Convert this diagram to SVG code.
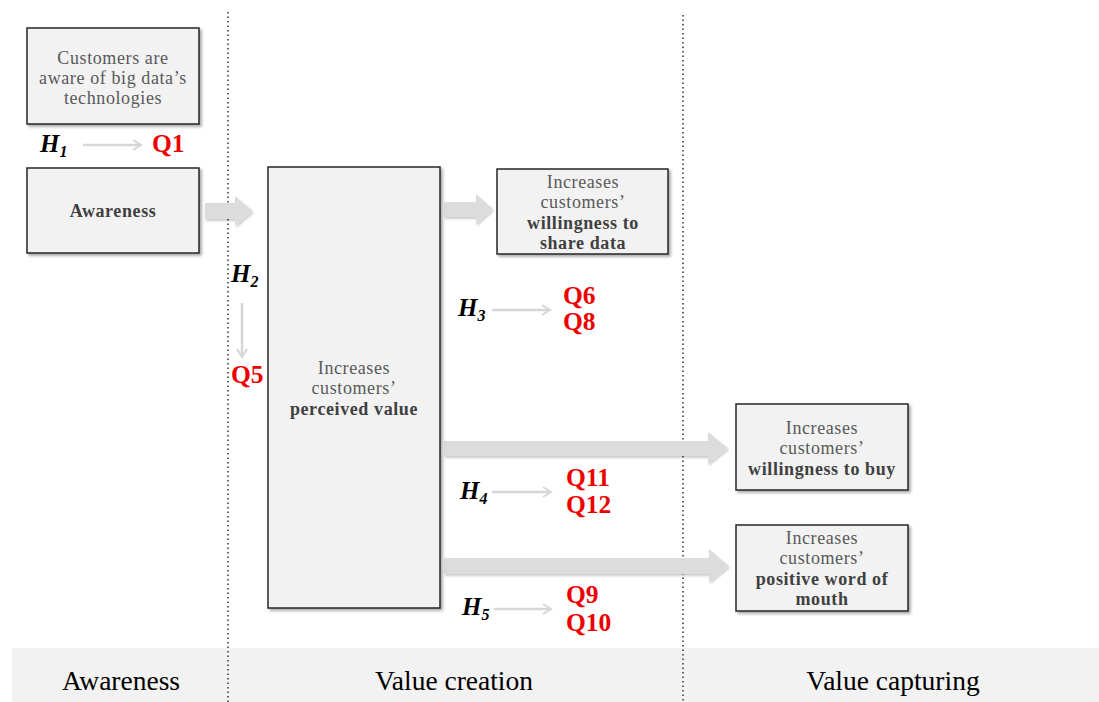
<svg xmlns="http://www.w3.org/2000/svg" width="1099" height="702" viewBox="0 0 1099 702">
  <defs>
    <filter id="shadow" x="-10%" y="-10%" width="130%" height="130%">
      <feDropShadow dx="2" dy="2" stdDeviation="1.5" flood-color="#000" flood-opacity="0.35"/>
    </filter>
    <filter id="softShadow" x="-10%" y="-30%" width="130%" height="180%">
      <feDropShadow dx="1" dy="2" stdDeviation="1.2" flood-color="#000" flood-opacity="0.2"/>
    </filter>
    <marker id="chev" viewBox="0 0 12 12" refX="10" refY="6" markerWidth="12" markerHeight="12" markerUnits="userSpaceOnUse" orient="auto">
      <path d="M2,1 L10,6 L2,11" fill="none" stroke="#d6d6d6" stroke-width="2"/>
    </marker>
  </defs>
  <style>
    .box { fill: #f2f2f2; stroke: #262626; stroke-width: 1.5; filter: url(#shadow); }
    .txt { font-family: "Liberation Serif", "Times New Roman", serif; font-size: 18px; fill: #595959; text-anchor: middle; letter-spacing: 0.6px; }
    .bold { font-weight: bold; fill: #404040; }
    .fat { fill: #dcdcdc; filter: url(#softShadow); }
    .thin { stroke: #d6d6d6; stroke-width: 2.5; fill: none; marker-end: url(#chev); }
    .hyp { font-family: "Liberation Serif", "Times New Roman", serif; font-size: 25px; font-weight: bold; font-style: italic; fill: #000; }
    .sub { font-size: 16px; }
    .q { font-family: "Liberation Serif", "Times New Roman", serif; font-size: 25.5px; font-weight: bold; fill: #ee0000; }
    .phase { font-family: "Liberation Serif", "Times New Roman", serif; font-size: 27.5px; fill: #000; text-anchor: middle; }
    .divider { stroke: #333; stroke-width: 1.5; stroke-dasharray: 1.5 3; fill: none; }
  </style>

  <rect width="1099" height="702" fill="#ffffff"/>

  <!-- phase band -->
  <g id="phase-band">
    <rect x="12" y="648" width="1087" height="54" fill="#f2f2f2"/>
    <text class="phase" x="121" y="690">Awareness</text>
    <text class="phase" x="454" y="690">Value creation</text>
    <text class="phase" x="893" y="690">Value capturing</text>
  </g>

  <!-- phase dividers -->
  <g id="dividers">
    <line class="divider" x1="228" y1="12" x2="228" y2="702"/>
    <line class="divider" x1="683" y1="15" x2="683" y2="702"/>
  </g>

  <!-- connectors -->
  <g id="connectors">
    <path class="fat" d="M205,203 H235 V196 L253,211 L235,226 V219 H205 Z"/>
    <path class="fat" d="M444,202 H476 V194 L493,209 L476,224 V217 H444 Z"/>
    <path class="fat" d="M444,441 H708 V432 L728,448 L708,464 V456 H444 Z"/>
    <path class="fat" d="M444,558 H709 V549 L729,566 L709,582 V574 H444 Z"/>
    <line class="thin" x1="83" y1="145" x2="141" y2="145"/>
    <line class="thin" x1="242" y1="303" x2="242" y2="357"/>
    <line class="thin" x1="492" y1="310" x2="550" y2="310"/>
    <line class="thin" x1="492" y1="492" x2="551" y2="492"/>
    <line class="thin" x1="494" y1="609" x2="551" y2="609"/>
  </g>

  <!-- nodes -->
  <g id="node-aware-tech">
    <rect class="box" x="27" y="28" width="172" height="96"/>
    <text class="txt" x="113" y="64">Customers are</text>
    <text class="txt" x="113" y="84">aware of big data’s</text>
    <text class="txt" x="113" y="104">technologies</text>
  </g>

  <g id="node-awareness">
    <rect class="box" x="27" y="168" width="172" height="85"/>
    <text class="txt bold" x="113" y="217">Awareness</text>
  </g>

  <g id="node-perceived-value">
    <rect class="box" x="268" y="167" width="172" height="441"/>
    <text class="txt" x="354" y="374">Increases</text>
    <text class="txt" x="354" y="394">customers’</text>
    <text class="txt bold" x="354" y="415">perceived value</text>
  </g>

  <g id="node-share-data">
    <rect class="box" x="497" y="169" width="171" height="85"/>
    <text class="txt" x="583" y="188">Increases</text>
    <text class="txt" x="583" y="208">customers’</text>
    <text class="txt bold" x="583" y="229">willingness to</text>
    <text class="txt bold" x="583" y="249">share data</text>
  </g>

  <g id="node-buy">
    <rect class="box" x="736" y="404" width="172" height="86"/>
    <text class="txt" x="822" y="434">Increases</text>
    <text class="txt" x="822" y="454">customers’</text>
    <text class="txt bold" x="822" y="475">willingness to buy</text>
  </g>

  <g id="node-word-of-mouth">
    <rect class="box" x="736" y="525" width="172" height="86"/>
    <text class="txt" x="822" y="544">Increases</text>
    <text class="txt" x="822" y="564">customers’</text>
    <text class="txt bold" x="822" y="585">positive word of</text>
    <text class="txt bold" x="822" y="605">mouth</text>
  </g>

  <!-- hypotheses and questions -->
  <g id="h1">
    <text class="hyp" x="40" y="152">H<tspan class="sub" dy="5">1</tspan></text>
    <text class="q" x="152" y="152">Q1</text>
  </g>
  <g id="h2">
    <text class="hyp" x="231" y="282">H<tspan class="sub" dy="5">2</tspan></text>
    <text class="q" x="231" y="383">Q5</text>
  </g>
  <g id="h3">
    <text class="hyp" x="458" y="316">H<tspan class="sub" dy="5">3</tspan></text>
    <text class="q" x="563" y="304">Q6</text>
    <text class="q" x="563" y="330">Q8</text>
  </g>
  <g id="h4">
    <text class="hyp" x="460" y="499">H<tspan class="sub" dy="5">4</tspan></text>
    <text class="q" x="566" y="486">Q11</text>
    <text class="q" x="566" y="513">Q12</text>
  </g>
  <g id="h5">
    <text class="hyp" x="462" y="615">H<tspan class="sub" dy="5">5</tspan></text>
    <text class="q" x="566" y="603">Q9</text>
    <text class="q" x="566" y="631">Q10</text>
  </g>
</svg>
